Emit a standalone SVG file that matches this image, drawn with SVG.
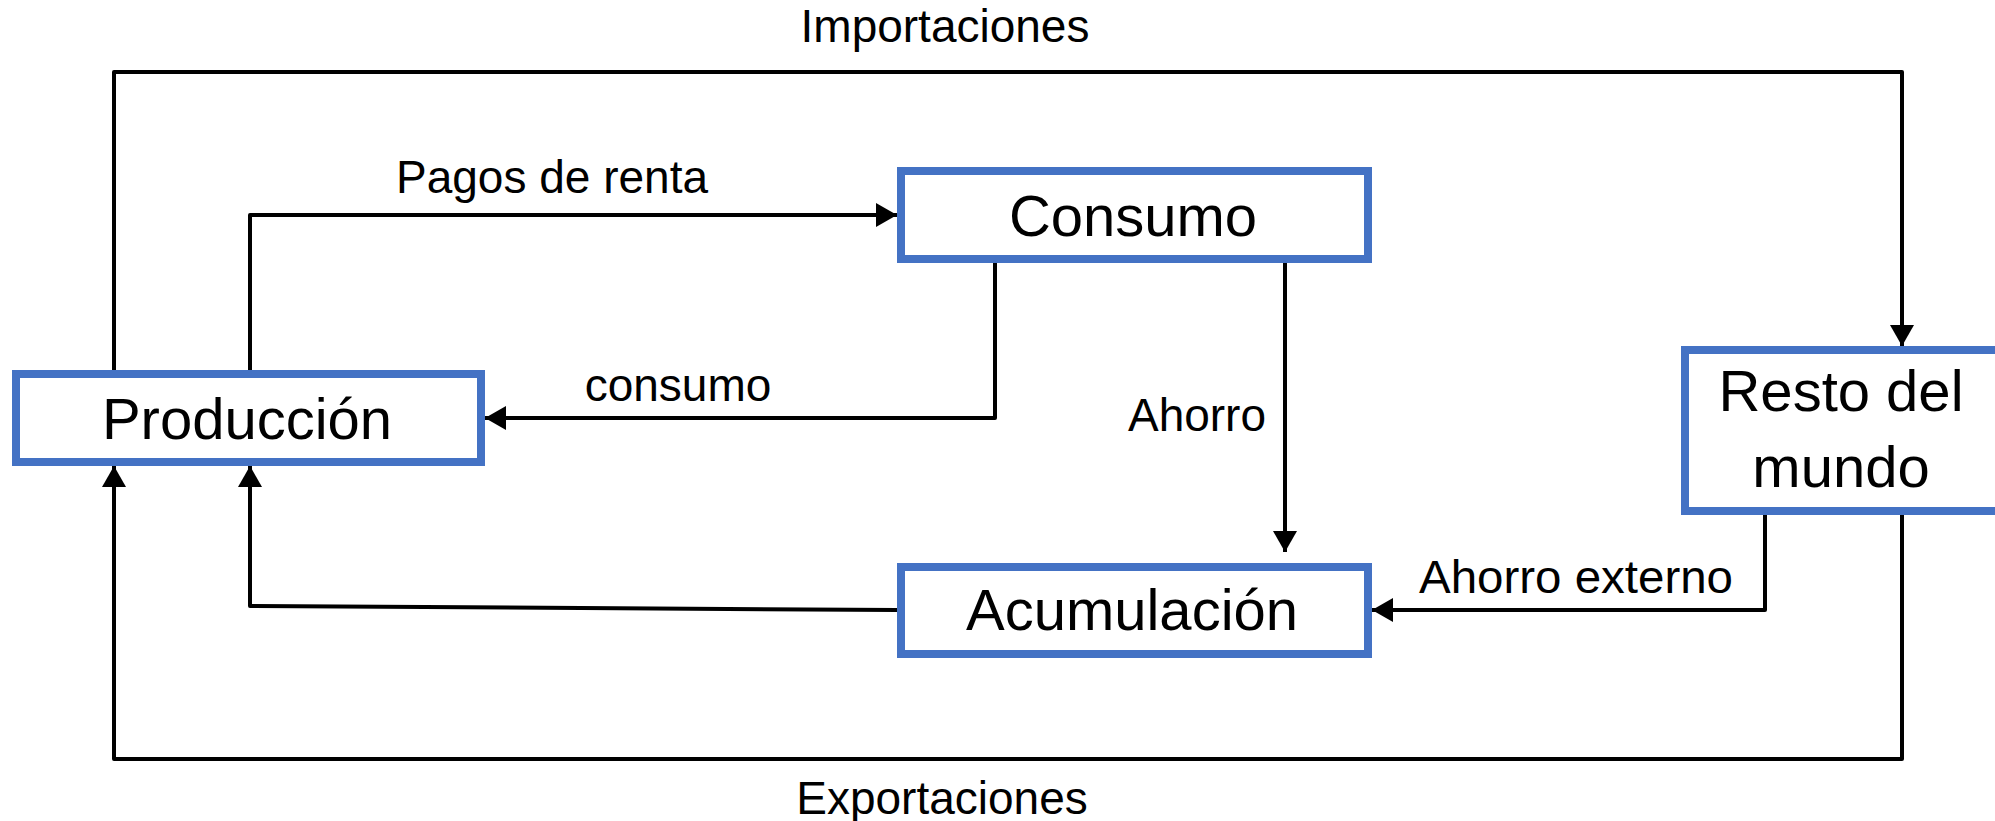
<svg xmlns="http://www.w3.org/2000/svg" width="1995" height="821" viewBox="0 0 1995 821">
<style>
.box{fill:#ffffff;stroke:#4472C4;stroke-width:8}
.node{font-family:"Liberation Sans",Arial,sans-serif;font-size:58px;fill:#000;text-anchor:middle}
.lbl{font-family:"Liberation Sans",Arial,sans-serif;font-size:46px;fill:#000;text-anchor:middle}
.c{fill:none;stroke:#000;stroke-width:4;stroke-linejoin:round}
.ca{fill:none;stroke:#000;stroke-width:4;stroke-linejoin:round;marker-end:url(#ah)}
</style>
<defs>
<marker id="ah" markerUnits="userSpaceOnUse" markerWidth="21" markerHeight="24" refX="21" refY="12" orient="auto">
<path d="M0,0 L21,12 L0,24 z" fill="#000"/>
</marker>
</defs>
<rect width="1995" height="821" fill="#ffffff"/>
<g id="connectors">
<polyline class="ca" points="114,370 114,72 1902,72 1902,346"/>
<polyline class="ca" points="1902,515 1902,759 114,759 114,466"/>
<polyline class="ca" points="250,370 250,215 897,215"/>
<polyline class="ca" points="995,263 995,418 485,418"/>
<polyline class="ca" points="1285,263 1285,552"/>
<polyline class="ca" points="1765,515 1765,610 1372,610"/>
<polyline class="ca" points="897,610 250,606 250,466"/>
</g>
<g id="labels">
<text class="lbl" x="945" y="42">Importaciones</text>
<text class="lbl" x="942" y="814">Exportaciones</text>
<text class="lbl" x="552" y="193">Pagos de renta</text>
<text class="lbl" x="678" y="401">consumo</text>
<text class="lbl" x="1197" y="431">Ahorro</text>
<text class="lbl" x="1576" y="593" textLength="314" lengthAdjust="spacingAndGlyphs">Ahorro externo</text>
</g>
<g id="produccion">
<rect class="box" x="16" y="374" width="465" height="88"/>
<text class="node" x="247" y="439">Producción</text>
</g>
<g id="consumo">
<rect class="box" x="901" y="171" width="467" height="88"/>
<text class="node" x="1133" y="236">Consumo</text>
</g>
<g id="acumulacion">
<rect class="box" x="901" y="567" width="467" height="87"/>
<text class="node" x="1132" y="630">Acumulación</text>
</g>
<g id="resto">
<rect class="box" x="1685" y="350" width="318" height="161"/>
<text class="node" x="1841" y="411">Resto del</text>
<text class="node" x="1841" y="487">mundo</text>
</g>
</svg>
